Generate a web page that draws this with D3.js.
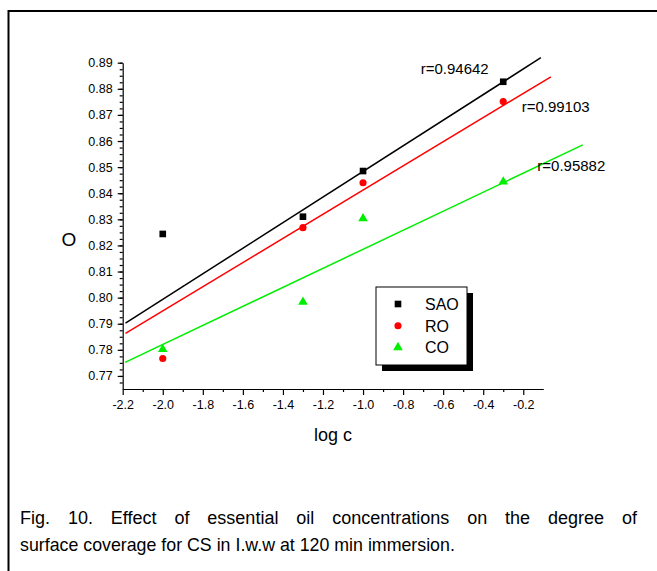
<!DOCTYPE html>
<html>
<head>
<meta charset="utf-8">
<script src="https://cdn.jsdelivr.net/npm/d3@7"></script>
<style>
  body { margin: 0; background: #fff; }
  text { font-family: "Liberation Sans", Arial, sans-serif; fill: #000; }
</style>
</head>
<body>
<svg id="chart" width="657" height="571"></svg>
<script>
// data
const logC = [-2.0, -1.3, -1.0, -0.3]
const saoTheta = [0.8244, 0.8310, 0.8485, 0.8827]
const roTheta = [0.7767, 0.8268, 0.8440, 0.8751]
const coTheta = [0.7802, 0.7983, 0.8303, 0.8444]

// fitted lines, end points [log c, theta]
const saoFit = [[-2.186, 0.7902], [-0.112, 0.8919]]
const roFit = [[-2.186, 0.7863], [-0.062, 0.8846]]
const coFit = [[-2.188, 0.7752], [0.097, 0.8585]]

const seriesNames = ['SAO', 'RO', 'CO']
const rLabels = ['r=0.94642', 'r=0.99103', 'r=0.95882']
const xTicks = [-2.2, -2.0, -1.8, -1.6, -1.4, -1.2, -1.0, -0.8, -0.6, -0.4, -0.2]
const yTicks = [0.77, 0.78, 0.79, 0.80, 0.81, 0.82, 0.83, 0.84, 0.85, 0.86, 0.87, 0.88, 0.89]
const caption = ['Fig. 10. Effect of essential oil concentrations on the degree of',
                 'surface coverage for CS in I.w.w at 120 min immersion.']

const svg = d3.select('#chart')

// outer frame (top + left only, like the scan)
svg.append('path')
    .attr('d', 'M8.5,571 L8.5,11 L657,11')
    .attr('fill', 'none').attr('stroke', '#000').attr('stroke-width', 2)

const x = d3.scaleLinear().domain([-2.2, -0.1]).range([122.7, 543.3])
const y = d3.scaleLinear().domain([0.765, 0.89]).range([389, 62.7])

// minor ticks
svg.append('g')
    .attr('transform', 'translate(0,389)')
    .call(d3.axisBottom(x).tickValues(d3.range(-2.1, -0.1, 0.2)).tickSize(3).tickFormat(''))
    .call(g => g.select('.domain').remove())
svg.append('g')
    .attr('transform', 'translate(122.7,0)')
    .call(d3.axisLeft(y).tickValues(d3.range(0.7675, 0.89, 0.0025)).tickSize(3).tickFormat(''))
    .call(g => g.select('.domain').remove())

// major axes
const xAxis = svg.append('g')
    .attr('transform', 'translate(0,389)')
    .call(d3.axisBottom(x).tickValues(xTicks).tickSize(6).tickSizeOuter(0).tickPadding(5)
        .tickFormat(d => d.toFixed(1)))
xAxis.selectAll('text').attr('font-size', 12.5).attr('font-family', '"Liberation Sans", Arial, sans-serif')

const yAxis = svg.append('g')
    .attr('transform', 'translate(122.7,0)')
    .call(d3.axisLeft(y).tickValues(yTicks).tickSize(5).tickSizeOuter(0).tickPadding(5)
        .tickFormat(d => d.toFixed(2)))
yAxis.selectAll('text').attr('font-size', 12.5).attr('font-family', '"Liberation Sans", Arial, sans-serif')

svg.selectAll('.domain, .tick line').attr('stroke', '#000').attr('stroke-width', 1.2)

// axis titles
svg.append('text').attr('x', 333).attr('y', 441).attr('text-anchor', 'middle')
    .attr('font-size', 18).text('log c')
svg.append('text').attr('x', 69).attr('y', 246).attr('text-anchor', 'middle')
    .attr('font-size', 19).text('O')

// fit lines
const colors = ['#000000', '#ff0000', '#00ee00']
const fits = [saoFit, roFit, coFit]
const line = d3.line().x(d => x(d[0])).y(d => y(d[1]))
fits.forEach((f, i) => {
    svg.append('path').datum(f).attr('d', line)
        .attr('fill', 'none').attr('stroke', colors[i]).attr('stroke-width', 1.5)
})

// points
const symbols = [d3.symbolSquare, d3.symbolCircle, d3.symbolTriangle]
const sizes = [44, 40, 40]
const values = [saoTheta, roTheta, coTheta]
values.forEach((vals, i) => {
    svg.append('g').selectAll('path')
        .data(vals.map((v, j) => [logC[j], v]))
        .join('path')
        .attr('transform', d => `translate(${x(d[0])},${y(d[1])})`)
        .attr('d', d3.symbol(symbols[i], sizes[i]))
        .attr('fill', colors[i])
})

// r labels, anchored in data coordinates
const rPos = [[-0.712, 0.8857], [-0.208, 0.8712], [-0.130, 0.8485]]
rLabels.forEach((t, i) => {
    svg.append('text').attr('x', x(rPos[i][0])).attr('y', y(rPos[i][1]))
        .attr('font-size', 15).text(t)
})

// legend
const lg = svg.append('g').attr('transform', 'translate(376,287)')
lg.append('rect').attr('x', 6).attr('y', 6).attr('width', 91).attr('height', 78).attr('fill', '#000')
lg.append('rect').attr('width', 91).attr('height', 78).attr('fill', '#fff')
    .attr('stroke', '#000').attr('stroke-width', 1)
seriesNames.forEach((n, i) => {
    const cy = 17 + i * 21.7
    lg.append('path').attr('transform', `translate(22,${cy})`)
        .attr('d', d3.symbol(symbols[i], sizes[i])).attr('fill', colors[i])
    lg.append('text').attr('x', 49).attr('y', cy + 6).attr('font-size', 16).text(n)
})

// caption: first line justified word by word
const words = caption[0].split(' ')
const capG = svg.append('g')
const wordEls = words.map(w => capG.append('text').attr('y', 524).attr('font-size', 18).text(w))
const widths = wordEls.map(t => t.node().getComputedTextLength())
const gap = (617 - d3.sum(widths)) / (words.length - 1)
let cx = 20
wordEls.forEach((t, i) => { t.attr('x', cx); cx += widths[i] + gap })
svg.append('text').attr('x', 20).attr('y', 551).attr('font-size', 17.8).text(caption[1])
</script>
</body>
</html>
